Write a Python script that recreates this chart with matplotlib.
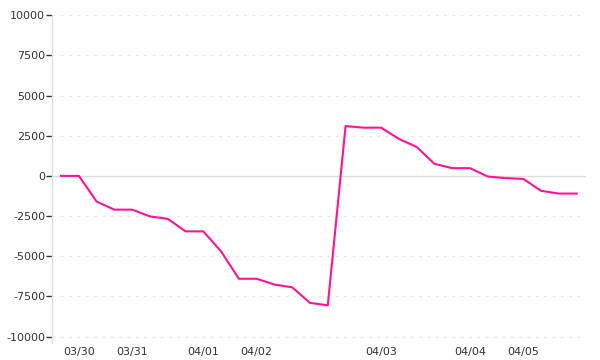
import numpy as np
import matplotlib
matplotlib.use("Agg")
import matplotlib.pyplot as plt

# one point per period, label only on the first point of each day
labels = ["", "03/30", "", "", "03/31", "", "", "", "04/01", "",
          "", "04/02", "", "", "", "", "", "", "04/03", "",
          "", "", "", "04/04", "", "", "04/05", "", "", ""]
values = [0, 0, -1600, -2100, -2100, -2520, -2670, -3450, -3450, -4700,
          -6400, -6400, -6760, -6930, -7900, -8050, 3100, 3000, 3000, 2300,
          1800, 750, 480, 480, -40, -140, -190, -930, -1100, -1100]
yticks = [10000, 7500, 5000, 2500, 0, -2500, -5000, -7500, -10000]

fig = plt.figure(figsize=(6, 3.6), dpi=100)
ax = fig.add_axes([0.087, 0.047, 0.889, 0.911])

x = np.arange(len(values))
ax.plot(x, values, color="#ff1493", linewidth=1.5, zorder=3)

ax.set_xlim(-0.5, len(values) - 0.5)
ax.set_ylim(-10400, 10000)

# gridlines
for t in yticks:
    if t == 0:
        ax.axhline(t, color="#dddddd", linewidth=1, zorder=1)
    else:
        ax.axhline(t, color="#e8e8e8", linewidth=1, linestyle=(0, (2, 4)), zorder=1)

ax.set_yticks(yticks)
ax.set_yticklabels([str(t) for t in yticks])
ax.set_xticks(x)
ax.set_xticklabels(labels)

ax.tick_params(axis="y", length=4, width=1, color="#333333", pad=1,
               labelsize=8, labelcolor="#333333")
ax.tick_params(axis="x", length=0, pad=3, labelsize=8, labelcolor="#333333")

for s in ["top", "right", "bottom"]:
    ax.spines[s].set_visible(False)
ax.spines["left"].set_color("#dddddd")
ax.spines["left"].set_linewidth(1)

fig.savefig("out.png", dpi=100)
